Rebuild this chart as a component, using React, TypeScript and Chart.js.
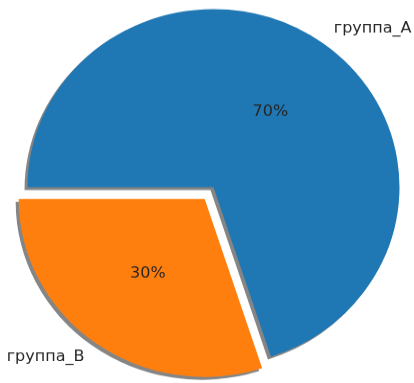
import React, { useEffect, useRef } from "react";
import { Chart, registerables } from "chart.js";

Chart.register(...registerables);

// ---- data ----
const categories = ["группа_A", "группа_B"];
const values = [70, 30];
const colors = ["#1f77b4", "#ff7f0e"];
const explode = [0, 15]; // px shift of each slice along its bisector

const W = 414;
const H = 383;
const CANVAS_H = 400; // drawn slightly taller, then squeezed to H (reference is vertically squashed)
const FONT = '16px "DejaVu Sans", sans-serif';
const PCT_DISTANCE = 0.52;
const LABEL_DISTANCE = 1.1;

export default function App() {
  const ref = useRef<HTMLCanvasElement>(null);

  useEffect(() => {
    const canvas = ref.current;
    if (!canvas) return;
    const total = values.reduce((a, b) => a + b, 0);

    const explodePlugin = {
      id: "explodeShift",
      afterDatasetsUpdate(chart: any) {
        const meta = chart.getDatasetMeta(0);
        meta.data.forEach((arc: any, i: number) => {
          const d = explode[i] || 0;
          if (!d) return;
          const mid = (arc.startAngle + arc.endAngle) / 2;
          arc.x += Math.cos(mid) * d;
          arc.y += Math.sin(mid) * d;
        });
      },
    };

    const shadowPlugin = {
      id: "pieShadow",
      beforeDatasetsDraw(chart: any) {
        const ctx = chart.ctx;
        ctx.save();
        ctx.shadowColor = "rgba(0,0,0,0.48)";
        ctx.shadowOffsetX = -3;
        ctx.shadowOffsetY = 3;
        ctx.shadowBlur = 0;
      },
      afterDatasetsDraw(chart: any) {
        chart.ctx.restore();
      },
    };

    const labelPlugin = {
      id: "pieLabels",
      afterDraw(chart: any) {
        const ctx = chart.ctx;
        const meta = chart.getDatasetMeta(0);
        ctx.save();
        ctx.font = FONT;
        ctx.fillStyle = "#262626";
        meta.data.forEach((arc: any, i: number) => {
          const { x, y, startAngle, endAngle, outerRadius } = arc;
          const mid = (startAngle + endAngle) / 2;
          const c = Math.cos(mid);
          const s = Math.sin(mid);
          ctx.textAlign = "center";
          ctx.textBaseline = "middle";
          const pct = Math.round((values[i] / total) * 100) + "%";
          ctx.fillText(pct, x + c * outerRadius * PCT_DISTANCE, y + s * outerRadius * PCT_DISTANCE);
          ctx.textAlign = c >= 0 ? "left" : "right";
          ctx.fillText(
            categories[i],
            x + c * outerRadius * LABEL_DISTANCE,
            y + s * outerRadius * LABEL_DISTANCE
          );
        });
        ctx.restore();
      },
    };

    const chart = new Chart(canvas, {
      type: "pie",
      data: {
        labels: categories,
        datasets: [
          {
            data: values,
            backgroundColor: colors,
            borderWidth: 0,
            hoverOffset: 0,
          },
        ],
      },
      options: {
        responsive: false,
        animation: false,
        devicePixelRatio: 1,
        rotation: -90,
        radius: 186,
        events: [],
        layout: { padding: { left: 13, right: 0, top: 0, bottom: 9 } },
        plugins: {
          legend: { display: false },
          tooltip: { enabled: false },
          title: { display: false },
        },
      } as any,
      plugins: [explodePlugin, shadowPlugin, labelPlugin],
    });

    return () => chart.destroy();
  }, []);

  return (
    <div style={{ position: "absolute", left: 0, top: 0, width: W, height: H, background: "#fff" }}>
      <canvas
        ref={ref}
        width={W}
        height={CANVAS_H}
        style={{ width: W, height: H, display: "block" }}
      />
    </div>
  );
}
